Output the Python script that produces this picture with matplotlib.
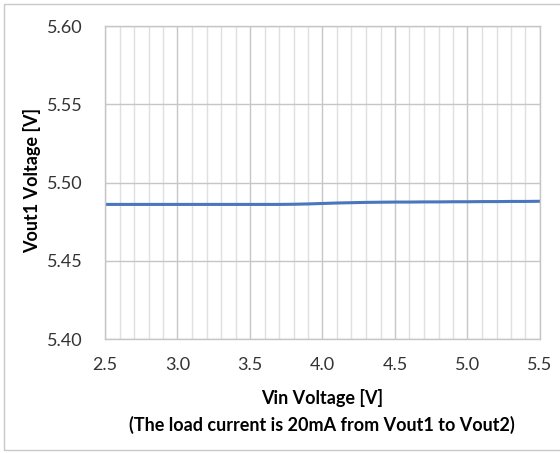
import matplotlib.pyplot as plt
import numpy as np
from matplotlib.patches import Rectangle

# Data
vin = [2.5, 2.6, 2.7, 2.8, 2.9, 3.0, 3.1, 3.2, 3.3, 3.4, 3.5, 3.6, 3.7, 3.8, 3.9,
       4.0, 4.1, 4.2, 4.3, 4.4, 4.5, 4.6, 4.7, 4.8, 4.9, 5.0, 5.1, 5.2, 5.3, 5.4, 5.5]
vout1 = [5.4860, 5.4860, 5.4860, 5.4860, 5.4860, 5.4860, 5.4860, 5.4860, 5.4860,
         5.4860, 5.4860, 5.4860, 5.4860, 5.4861, 5.4863, 5.4866, 5.4869, 5.4871,
         5.4873, 5.4874, 5.4875, 5.4875, 5.4876, 5.4876, 5.4877, 5.4877, 5.4878,
         5.4878, 5.4879, 5.4879, 5.4880]

x_ticks = [2.5, 3.0, 3.5, 4.0, 4.5, 5.0, 5.5]
y_ticks = [5.40, 5.45, 5.50, 5.55, 5.60]

plt.rcParams['font.family'] = ['Lato', 'DejaVu Sans']

fig = plt.figure(figsize=(5.6, 4.53), dpi=100)
ax = fig.add_axes([105 / 560, 1 - 339 / 453, 435 / 560, 313 / 453])

# outer chart frame
fig.patches.append(Rectangle((4 / 560, 3 / 453), 560, 446 / 453,
                             transform=fig.transFigure, fill=False,
                             edgecolor='#c8c8c8', linewidth=1.0))

ax.set_xlim(2.5, 5.5)
ax.set_ylim(5.40, 5.60)
ax.set_xticks(x_ticks)
ax.set_yticks(y_ticks)
ax.set_xticks(np.arange(2.5, 5.51, 0.1), minor=True)
ax.set_xticklabels([f"{v:.1f}" for v in x_ticks])
ax.set_yticklabels([f"{v:.2f}" for v in y_ticks])

ax.grid(which='minor', axis='x', color='#e0e0e0', linewidth=1.0)
ax.grid(which='major', axis='x', color='#c6c6c6', linewidth=1.0)
ax.grid(which='major', axis='y', color='#c6c6c6', linewidth=1.0)
ax.set_axisbelow(True)

ax.plot(vin, vout1, color='#4a76bd', linewidth=2.2, solid_capstyle='butt')

for spine in ax.spines.values():
    spine.set_color('#c6c6c6')
    spine.set_linewidth(1.0)

ax.tick_params(which='both', length=0)
ax.tick_params(axis='x', labelsize=13, pad=13, colors='#333333')
ax.tick_params(axis='y', labelsize=13, pad=16, colors='#333333')

fig.text(32 / 560, 1 - 180 / 453, 'Vout1 Voltage [V]', ha='center', va='center',
         rotation=90, fontsize=13, fontweight='bold')
fig.text(322 / 560, 1 - 398 / 453, 'Vin Voltage [V]', ha='center', va='center',
         fontsize=13, fontweight='bold')
fig.text(322 / 560, 1 - 425 / 453, '(The load current is 20mA from Vout1 to Vout2)',
         ha='center', va='center', fontsize=13, fontweight='bold')

fig.savefig('out.png', dpi=100)
